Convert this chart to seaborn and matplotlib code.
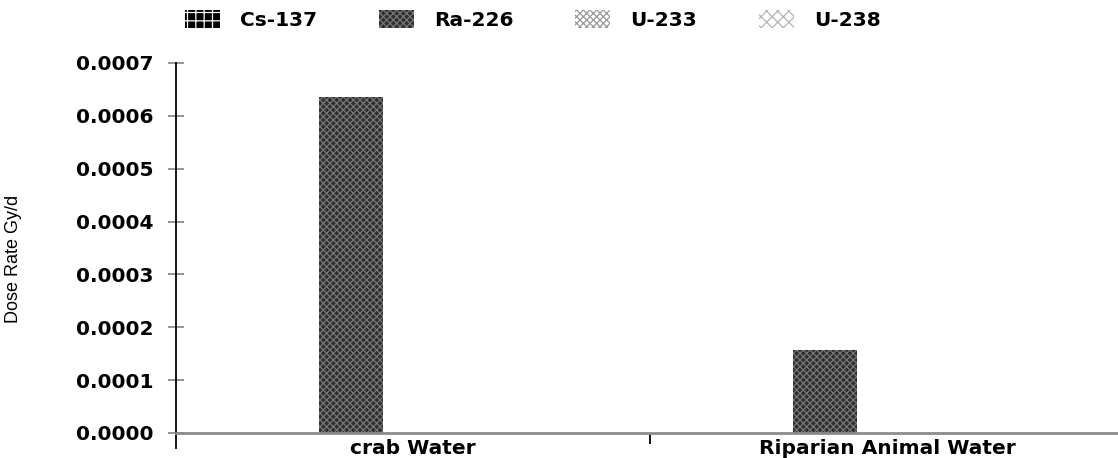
import matplotlib
matplotlib.use("Agg")
import matplotlib.pyplot as plt
from matplotlib.patches import Patch
from matplotlib.ticker import FormatStrFormatter, FixedLocator
from matplotlib.font_manager import FontProperties
import pandas as pd
import seaborn as sns

# Dose rate per radionuclide and receptor (Gy/d)
categories = ["crab Water", "Riparian Animal Water"]
nuclides = ["Cs-137", "Ra-226", "U-233", "U-238"]
cs137 = [0.0, 0.0]
ra226 = [0.000636, 0.000157]
u233 = [0.0, 0.0]
u238 = [0.0, 0.0]
y_ticks = [0.0, 0.0001, 0.0002, 0.0003, 0.0004, 0.0005, 0.0006, 0.0007]

series = {"Cs-137": cs137, "Ra-226": ra226, "U-233": u233, "U-238": u238}
df = pd.DataFrame(
    [(cat, nuc, vals[i]) for nuc, vals in series.items() for i, cat in enumerate(categories)],
    columns=["receptor", "nuclide", "dose"],
)

# fill / hatch style of each nuclide
styles = {
    "Cs-137": dict(facecolor="#000000", edgecolor="#ffffff", hatch="++"),
    "Ra-226": dict(facecolor="#2e2e2e", edgecolor="#767676", hatch="xxxxx"),
    "U-233": dict(facecolor="#ffffff", edgecolor="#9a9a9a", hatch="xxxxx"),
    "U-238": dict(facecolor="#ffffff", edgecolor="#b4b4b4", hatch="xxx"),
}

sns.set_theme(style="white")
plt.rcParams["font.family"] = ["DejaVu Sans"]
plt.rcParams["hatch.linewidth"] = 0.9

fig = plt.figure(figsize=(11.18, 4.58), dpi=100)
ax = fig.add_axes([176 / 1118, 10 / 458, 948 / 1118, 385 / 458])

sns.barplot(
    data=df, x="receptor", y="dose", hue="nuclide", order=categories,
    hue_order=nuclides, palette=["#000000"] * 4, width=1.046, gap=0.476,
    errorbar=None, legend=False, ax=ax,
)

for nuc, cont in zip(nuclides, ax.containers):
    st = styles[nuc]
    for bar in cont:
        bar.set_facecolor(st["facecolor"])
        bar.set_edgecolor(st["edgecolor"])
        bar.set_hatch(st["hatch"])
        bar.set_linewidth(0)

ax.set_xlim(-0.5, 1.5)
ax.set_ylim(-0.0000284, 0.0007)
ax.yaxis.set_major_locator(FixedLocator(y_ticks))
ax.yaxis.set_major_formatter(FormatStrFormatter("%.4f"))

for s in ["top", "right"]:
    ax.spines[s].set_visible(False)
ax.spines["left"].set_color("black")
ax.spines["left"].set_linewidth(1.3)
ax.spines["bottom"].set_position(("data", 0))
ax.spines["bottom"].set_color("#8c8c8c")
ax.spines["bottom"].set_linewidth(2.0)

tick_font = FontProperties(family="DejaVu Sans", weight="bold", size=14.5)
ax.tick_params(axis="y", direction="inout", length=11, width=1.3,
               color="#8c8c8c", pad=11, left=True)
ax.tick_params(axis="x", which="major", length=0, pad=4, bottom=True)
ax.set_xticks([0.5], minor=True)
ax.tick_params(axis="x", which="minor", direction="out", length=8,
               width=1.3, color="black", bottom=True)
for lab in ax.get_yticklabels() + ax.get_xticklabels():
    lab.set_fontproperties(tick_font)
    lab.set_color("black")

ax.set_xlabel("")
ax.set_ylabel("Dose Rate Gy/d", family="Liberation Sans", fontsize=13, color="black")
ax.yaxis.set_label_coords(-0.162, 0.49)

handles = [Patch(linewidth=0, **styles[n]) for n in nuclides]
fig.legend(
    handles, nuclides, loc="center left", bbox_to_anchor=(185 / 1118, 1 - 20 / 458),
    ncol=4, frameon=False, borderpad=0, borderaxespad=0,
    handlelength=1.75, handleheight=0.95, handletextpad=1.0, columnspacing=3.05,
    labelcolor="black",
    prop=FontProperties(family="DejaVu Sans", weight="bold", size=14.5),
)

fig.savefig("out.png", dpi=100)
